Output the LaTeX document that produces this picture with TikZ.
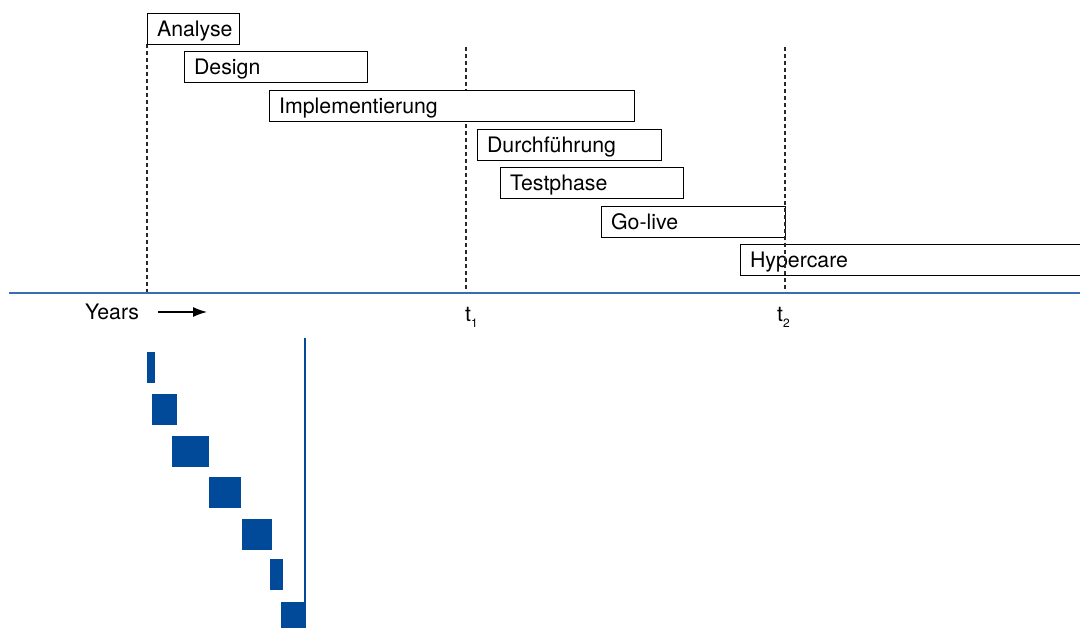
\documentclass[tikz,border=0pt]{standalone}
\usepackage{fontspec}
\setmainfont{TeX Gyre Heros}
\usetikzlibrary{arrows.meta}
\definecolor{axisblue}{RGB}{58,110,176}
\definecolor{blockblue}{RGB}{0,74,153}
\definecolor{dashgrey}{RGB}{40,40,40}
\tikzset{
  phase/.style={draw=black, line width=1.2pt, fill=white, inner xsep=9.5pt, inner ysep=0pt,
    minimum height=31pt, text height=20pt, text depth=5pt, anchor=north west, align=left,
    font=\fontsize{21.3}{22}\selectfont},
  marker/.style={draw=dashgrey, line width=1.2pt, dash pattern=on 4pt off 3pt},
  axisline/.style={draw=axisblue, line width=2pt},
  lbl/.style={font=\fontsize{21.3}{22}\selectfont, inner sep=0pt},
  blk/.style={fill=blockblue},
}
\begin{document}
\begin{tikzpicture}[x=1pt,y=-1pt]
\useasboundingbox (0,0) rectangle (1080,628);
% dashed time markers
\coordinate (m0a) at (147,44);  \coordinate (m0b) at (147,293);
\coordinate (m1a) at (466,47);  \coordinate (m1b) at (466,293);
\draw[marker] (m0a) -- (m0b);
\draw[marker] (m1a) -- (m1b);
% phases
\node[phase, text width=73pt]  (ana) at (147,13)  {Analyse};
\node[phase, text width=164pt] (des) at (184,51)  {Design};
\node[phase, text width=346pt] (imp) at (269,90)  {Implementierung};
\node[phase, text width=165pt] (dur) at (477,129) {Durchführung};
\node[phase, text width=164pt] (tes) at (500,167) {Testphase};
\node[phase, text width=165pt] (gol) at (601,206) {Go-live};
\node[phase, text width=330pt, fill=none] (hyp) at (740,244) {Hypercare};
\coordinate (m2a) at (785,47);  \coordinate (m2b) at (785,293);
\draw[marker] (m2a) -- (m2b);
% axis
\coordinate (axl) at (9,293.5); \coordinate (axr) at (1085,293.5);
\draw[axisline] (axl) -- (axr);
\node[lbl] (years) at (112,312) {Years};
\coordinate (arra) at (158,312); \coordinate (arrb) at (207,312);
\draw[line width=1.2pt, -{Latex[length=14pt,width=10pt]}] (arra) -- (arrb);
\node[lbl, anchor=base west] (t1) at (465,322) {t\raisebox{-6pt}{\fontsize{12}{12}\selectfont 1}};
\node[lbl, anchor=base west] (t2) at (777,322) {t\raisebox{-6pt}{\fontsize{12}{12}\selectfont 2}};
% blue blocks
\fill[blk] (147,352) rectangle (155,383);
\fill[blk] (152,394) rectangle (177,425);
\fill[blk] (172,436) rectangle (209,467);
\fill[blk] (209,477) rectangle (241,508);
\fill[blk] (242,519) rectangle (272,550);
\fill[blk] (270,559) rectangle (283,590);
\fill[blk] (281,602) rectangle (306,632);
\draw[draw=blockblue, line width=1.6pt] (305.2,338) -- (305.2,632);
\end{tikzpicture}
\end{document}
